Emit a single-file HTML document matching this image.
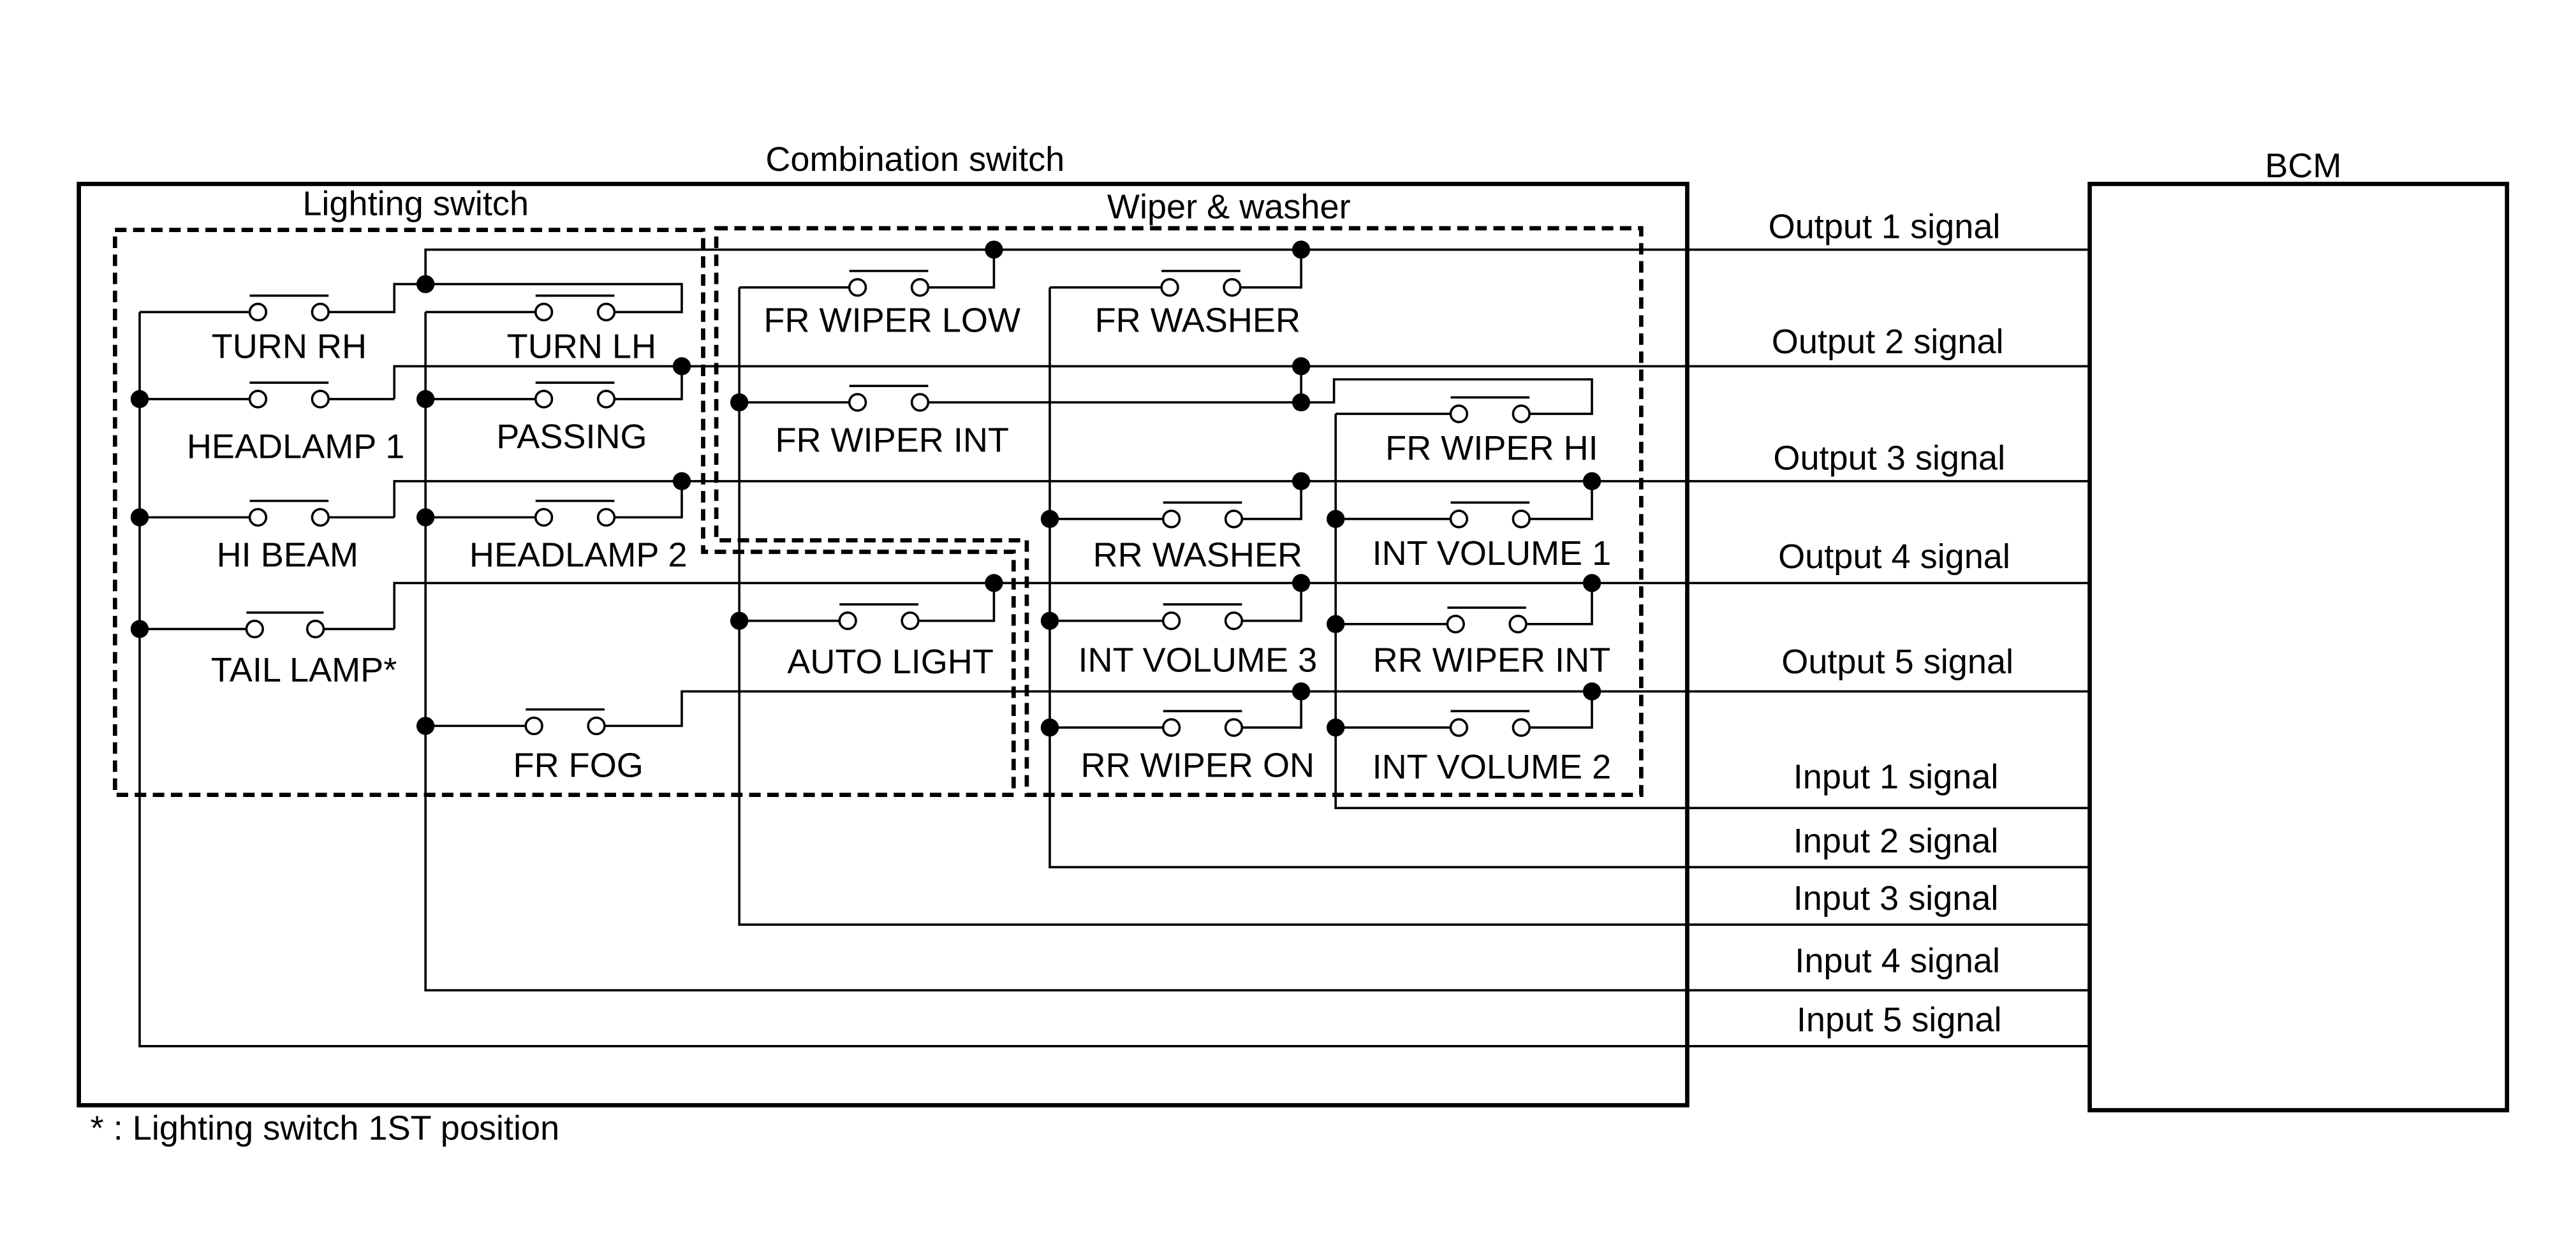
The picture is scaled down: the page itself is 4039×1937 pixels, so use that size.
<!DOCTYPE html>
<html><head><meta charset="utf-8"><style>html,body{margin:0;padding:0;background:#fff}svg{display:block}</style></head><body>
<svg width="4039" height="1937" viewBox="0 0 1568 752" preserveAspectRatio="none" xmlns="http://www.w3.org/2000/svg">
<g fill="none" stroke="#000" stroke-width="1.4">
<rect x="48" y="112" width="979" height="561" stroke-width="2.6"/>
<rect x="1272" y="112" width="254" height="564" stroke-width="2.6"/>
<polygon points="70,140 428,140 428,336 617,336 617,484 70,484" stroke-width="2.6" stroke-dasharray="7,4"/>
<polygon points="436,139 999,139 999,484 625,484 625,329 436,329" stroke-width="2.6" stroke-dasharray="7,4"/>
<polyline points="259,173 259,152 1272,152"/>
<polyline points="240,243 240,223 1272,223"/>
<polyline points="240,315 240,293 1272,293"/>
<polyline points="240,383 240,355 1272,355"/>
<polyline points="363,442 415,442 415,421 1272,421"/>
<polyline points="85,190 85,637 1272,637"/>
<polyline points="259,190 259,603 1272,603"/>
<polyline points="450,175 450,563 1272,563"/>
<polyline points="639,175 639,528 1272,528"/>
<polyline points="813,252 813,492 1272,492"/>
<polyline points="85,190 157,190"/><polyline points="195,190 240,190 240,173 415,173 415,190 369,190"/>
<polyline points="259,190 331,190"/>
<polyline points="85,243 157,243"/><polyline points="195,243 240,243"/>
<polyline points="259,243 331,243"/><polyline points="369,243 415,243 415,223"/>
<polyline points="85,315 157,315"/><polyline points="195,315 240,315"/>
<polyline points="259,315 331,315"/><polyline points="369,315 415,315 415,293"/>
<polyline points="85,383 155,383"/><polyline points="192,383 240,383"/>
<polyline points="259,442 325,442"/>
<polyline points="450,175 522,175"/><polyline points="560,175 605,175 605,152"/>
<polyline points="639,175 712,175"/><polyline points="750,175 792,175 792,152"/>
<polyline points="792,223 792,245"/>
<polyline points="450,245 522,245"/><polyline points="560,245 812,245 812,231 969,231 969,252 926,252"/>
<polyline points="813,252 888,252"/>
<polyline points="639,316 713,316"/><polyline points="751,316 792,316 792,293"/>
<polyline points="813,316 888,316"/><polyline points="926,316 969,316 969,293"/>
<polyline points="450,378 516,378"/><polyline points="554,378 605,378 605,355"/>
<polyline points="639,378 713,378"/><polyline points="751,378 792,378 792,355"/>
<polyline points="813,380 886,380"/><polyline points="924,380 969,380 969,355"/>
<polyline points="639,443 713,443"/><polyline points="751,443 792,443 792,421"/>
<polyline points="813,443 888,443"/><polyline points="926,443 969,443 969,421"/>
<path d="M152,180H200 M326,180H374 M152,233H200 M326,233H374 M152,305H200 M326,305H374 M150,373H197 M320,432H368 M517,165H565 M707,165H755 M517,235H565 M883,242H931 M708,306H756 M883,306H931 M511,368H559 M708,368H756 M881,370H929 M708,433H756 M883,433H931"/>
</g>
<g fill="#fff" stroke="#000" stroke-width="1.4">
<circle cx="157" cy="190" r="5"/><circle cx="195" cy="190" r="5"/>
<circle cx="331" cy="190" r="5"/><circle cx="369" cy="190" r="5"/>
<circle cx="157" cy="243" r="5"/><circle cx="195" cy="243" r="5"/>
<circle cx="331" cy="243" r="5"/><circle cx="369" cy="243" r="5"/>
<circle cx="157" cy="315" r="5"/><circle cx="195" cy="315" r="5"/>
<circle cx="331" cy="315" r="5"/><circle cx="369" cy="315" r="5"/>
<circle cx="155" cy="383" r="5"/><circle cx="192" cy="383" r="5"/>
<circle cx="325" cy="442" r="5"/><circle cx="363" cy="442" r="5"/>
<circle cx="522" cy="175" r="5"/><circle cx="560" cy="175" r="5"/>
<circle cx="712" cy="175" r="5"/><circle cx="750" cy="175" r="5"/>
<circle cx="522" cy="245" r="5"/><circle cx="560" cy="245" r="5"/>
<circle cx="888" cy="252" r="5"/><circle cx="926" cy="252" r="5"/>
<circle cx="713" cy="316" r="5"/><circle cx="751" cy="316" r="5"/>
<circle cx="888" cy="316" r="5"/><circle cx="926" cy="316" r="5"/>
<circle cx="516" cy="378" r="5"/><circle cx="554" cy="378" r="5"/>
<circle cx="713" cy="378" r="5"/><circle cx="751" cy="378" r="5"/>
<circle cx="886" cy="380" r="5"/><circle cx="924" cy="380" r="5"/>
<circle cx="713" cy="443" r="5"/><circle cx="751" cy="443" r="5"/>
<circle cx="888" cy="443" r="5"/><circle cx="926" cy="443" r="5"/>
</g>
<g fill="#000">
<circle cx="259" cy="173" r="5.5"/><circle cx="415" cy="223" r="5.5"/><circle cx="415" cy="293" r="5.5"/>
<circle cx="85" cy="243" r="5.5"/><circle cx="85" cy="315" r="5.5"/><circle cx="85" cy="383" r="5.5"/>
<circle cx="259" cy="243" r="5.5"/><circle cx="259" cy="315" r="5.5"/><circle cx="259" cy="442" r="5.5"/>
<circle cx="605" cy="152" r="5.5"/><circle cx="792" cy="152" r="5.5"/>
<circle cx="792" cy="223" r="5.5"/><circle cx="792" cy="245" r="5.5"/><circle cx="450" cy="245" r="5.5"/>
<circle cx="792" cy="293" r="5.5"/><circle cx="969" cy="293" r="5.5"/>
<circle cx="639" cy="316" r="5.5"/><circle cx="813" cy="316" r="5.5"/>
<circle cx="605" cy="355" r="5.5"/><circle cx="792" cy="355" r="5.5"/><circle cx="969" cy="355" r="5.5"/>
<circle cx="450" cy="378" r="5.5"/><circle cx="639" cy="378" r="5.5"/><circle cx="813" cy="380" r="5.5"/>
<circle cx="792" cy="421" r="5.5"/><circle cx="969" cy="421" r="5.5"/>
<circle cx="639" cy="443" r="5.5"/><circle cx="813" cy="443" r="5.5"/>
</g>
<g font-family="Liberation Sans, Arial, sans-serif" font-size="21" fill="#000" text-anchor="middle">
<text x="557" y="104">Combination switch</text>
<text x="1402" y="108">BCM</text>
<text x="253" y="131">Lighting switch</text>
<text x="748" y="133">Wiper &amp; washer</text>
<text x="176" y="218">TURN RH</text>
<text x="354" y="218">TURN LH</text>
<text x="180" y="279">HEADLAMP 1</text>
<text x="348" y="273">PASSING</text>
<text x="175" y="345">HI BEAM</text>
<text x="352" y="345">HEADLAMP 2</text>
<text x="185" y="415">TAIL LAMP*</text>
<text x="352" y="473">FR FOG</text>
<text x="543" y="202">FR WIPER LOW</text>
<text x="729" y="202">FR WASHER</text>
<text x="543" y="275">FR WIPER INT</text>
<text x="908" y="280">FR WIPER HI</text>
<text x="729" y="345">RR WASHER</text>
<text x="908" y="344">INT VOLUME 1</text>
<text x="542" y="410">AUTO LIGHT</text>
<text x="729" y="409">INT VOLUME 3</text>
<text x="908" y="409">RR WIPER INT</text>
<text x="729" y="473">RR WIPER ON</text>
<text x="908" y="474">INT VOLUME 2</text>
<text x="1147" y="145">Output 1 signal</text>
<text x="1149" y="215">Output 2 signal</text>
<text x="1150" y="286">Output 3 signal</text>
<text x="1153" y="346">Output 4 signal</text>
<text x="1155" y="410">Output 5 signal</text>
<text x="1154" y="480">Input 1 signal</text>
<text x="1154" y="519">Input 2 signal</text>
<text x="1154" y="554">Input 3 signal</text>
<text x="1155" y="592">Input 4 signal</text>
<text x="1156" y="628">Input 5 signal</text>
<text x="55" y="694" text-anchor="start">* : Lighting switch 1ST position</text>
</g>
</svg>
</body></html>
